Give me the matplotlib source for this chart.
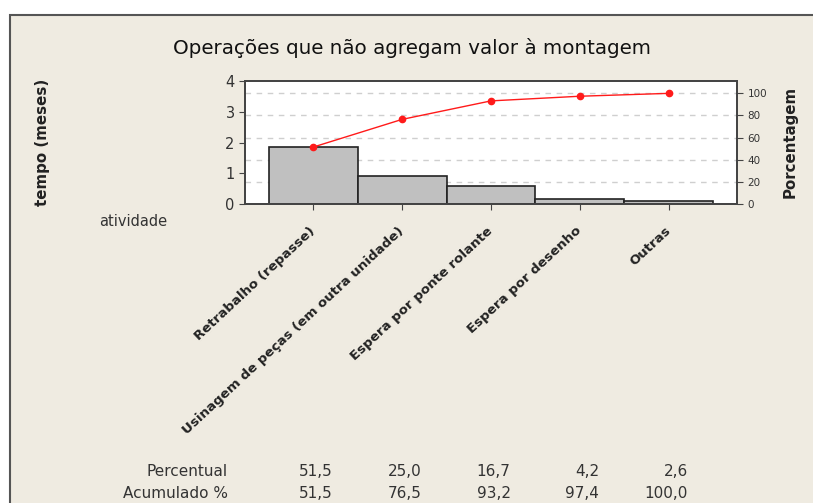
import matplotlib
matplotlib.use('Agg')
import matplotlib.pyplot as plt
import matplotlib.transforms as mtransforms
from matplotlib.patches import Rectangle
import numpy as np

categories = ['Retrabalho (repasse)', 'Usinagem de peças (em outra unidade)',
              'Espera por ponte rolante', 'Espera por desenho', 'Outras']
tempo = [1.854, 0.900, 0.600, 0.150, 0.094]   # meses
percentual = [51.5, 25.0, 16.7, 4.2, 2.6]
acumulado = [51.5, 76.5, 93.2, 97.4, 100.0]
pct_ticks = [0, 20, 40, 60, 80, 100]

total = sum(tempo)
bg = '#efebe1'
txt = '#333333'

fig = plt.figure(figsize=(8.13, 5.03), dpi=100)
fig.patch.set_facecolor('white')
# beige panel with border (top and left edges visible)
fig.patches.append(Rectangle((10/813, -0.1), 1.2, 0.9702 + 0.1, transform=fig.transFigure,
                             facecolor=bg, edgecolor='#555555', lw=1.5, zorder=-10))

ax = fig.add_axes([245/813, 1 - 204/503, (737 - 245)/813, (204 - 81)/503])
ax.set_facecolor('white')
x = np.arange(len(categories))

# dashed grid at the percentage ticks (drawn behind bars)
for p in pct_ticks[1:]:
    ax.axhline(p / 100 * total, color='#cfcfcf', lw=1, ls=(0, (4, 4)), zorder=0)

ax.bar(x, tempo, width=1.0, color='#c0c0c0', edgecolor='#222222', lw=1.2, zorder=2)
ax.set_xlim(-0.77, len(categories) - 1 + 0.77)
ax.set_ylim(0, 4)
ax.set_yticks([0, 1, 2, 3, 4])
ax.tick_params(axis='y', labelsize=10.5, labelcolor=txt, length=4, color='#444444')
ax.set_xticks(x)
ax.set_xticklabels(categories, rotation=43, ha='right', va='center', rotation_mode='anchor',
                   fontsize=9.6, fontweight='bold', color='#222222')
ax.tick_params(axis='x', length=4, pad=14, color='#444444')
for s in ax.spines.values():
    s.set_color('#444444')
    s.set_linewidth(1.3)

ax2 = ax.twinx()
ax2.plot(x, acumulado, color='#ff1a1a', lw=1, marker='o', ms=4.5, zorder=5)
ax2.set_ylim(0, 4 / total * 100)
ax2.set_yticks(pct_ticks)
ax2.tick_params(axis='y', labelsize=7.5, labelcolor=txt, length=4, color='#444444')
for s in ax2.spines.values():
    s.set_color('#444444')
    s.set_linewidth(1.3)

fig.text(412/813, 1 - 48/503, 'Operações que não agregam valor à montagem',
         ha='center', va='center', fontsize=14.3, color='#111111')
fig.text(43/813, 1 - 142/503, 'tempo (meses)', rotation=90, ha='center', va='center',
         fontsize=10.8, fontweight='bold', color='#222222')
fig.text(790/813, 1 - 142/503, 'Porcentagem', rotation=90, ha='center', va='center',
         fontsize=10.8, fontweight='bold', color='#222222')
fig.text(133/813, 1 - 222/503, 'atividade', ha='center', va='center',
         fontsize=10.5, color=txt)

# table under the chart
row_y = [1 - 471/503, 1 - 493/503]
fig.text(228/813, row_y[0], 'Percentual', ha='right', va='center', fontsize=11, color=txt)
fig.text(228/813, row_y[1], 'Acumulado %', ha='right', va='center', fontsize=11, color=txt)
trans = mtransforms.blended_transform_factory(ax.transData, fig.transFigure)
for i in range(len(categories)):
    fig.text(x[i] + 0.22, row_y[0], f'{percentual[i]:.1f}'.replace('.', ','), transform=trans,
             ha='right', va='center', fontsize=11, color=txt)
    fig.text(x[i] + 0.22, row_y[1], f'{acumulado[i]:.1f}'.replace('.', ','), transform=trans,
             ha='right', va='center', fontsize=11, color=txt)

fig.savefig('out.png', dpi=100)
